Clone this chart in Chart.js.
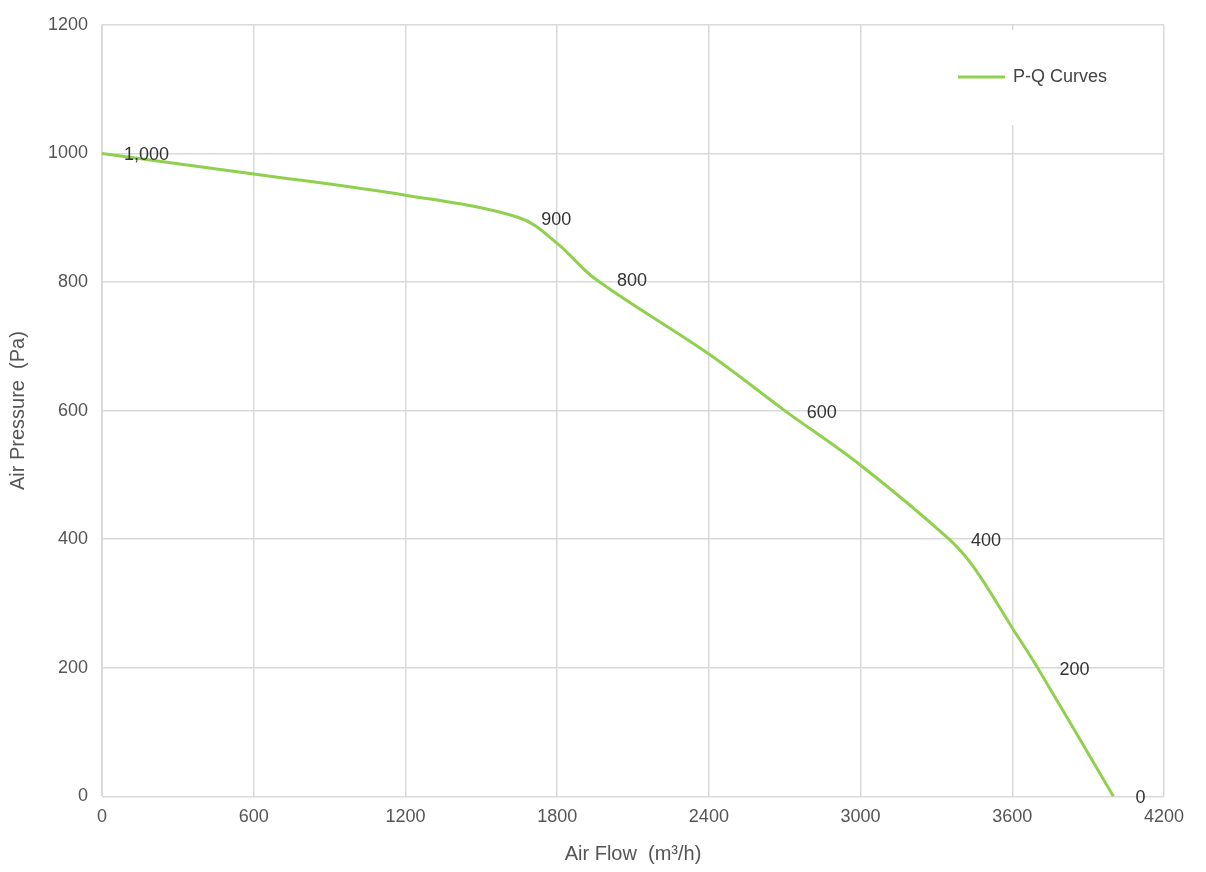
<!DOCTYPE html>
<html><head><meta charset="utf-8">
<script src="https://cdn.jsdelivr.net/npm/chart.js@4"></script>
<style>html,body{margin:0;background:#fff}#w{width:1206px;height:872px}</style>
</head><body><div id="w"><canvas id="c"></canvas></div>
<script>
const airFlow = [0, 600, 1200, 1650, 1800, 1950, 2400, 2700, 3000, 3350, 3450, 3600, 3700, 4000];
const pressure = [1000, 968, 935, 900, 860, 805, 688, 600, 515, 400, 355, 262, 200, 0];
const pointLabels = ["1,000", "", "", "900", "", "800", "", "600", "", "400", "", "", "200", "0"];
const xTicks = [0, 600, 1200, 1800, 2400, 3000, 3600, 4200];
const seriesName = "P-Q Curves";
const F = "'Liberation Sans', Arial, sans-serif";
const labelPlugin = {
  id: 'lbl',
  afterDatasetsDraw(chart) {
    const ctx = chart.ctx, meta = chart.getDatasetMeta(0);
    ctx.save();
    ctx.font = "18px " + F; ctx.fillStyle = "#333"; ctx.textBaseline = "middle"; ctx.textAlign = "left";
    meta.data.forEach((p, i) => { if (pointLabels[i]) ctx.fillText(pointLabels[i], p.x + 22, p.y + 2); });
    const lx = 945, ly = 77;
    ctx.fillStyle = "#fff"; ctx.fillRect(lx, 30, 210, 95);
    ctx.strokeStyle = "#8fd14f"; ctx.lineWidth = 3;
    ctx.beginPath(); ctx.moveTo(lx + 13, ly); ctx.lineTo(lx + 60, ly); ctx.stroke();
    ctx.fillStyle = "#444"; ctx.font = "18px " + F;
    ctx.fillText(seriesName, lx + 68, ly);
    ctx.restore();
  }
};
new Chart(document.getElementById('c'), {
  type: 'line',
  data: { datasets: [{ label: seriesName, data: airFlow.map((x, i) => ({x, y: pressure[i]})),
    borderColor: "#8fd14f", borderWidth: 3, pointRadius: 0, tension: 0.35, fill: false }] },
  options: {
    responsive: true, maintainAspectRatio: false, animation: false,
    layout: { padding: { top: 8, right: 42, left: 2, bottom: 2 } },
    plugins: { legend: { display: false }, tooltip: { enabled: false } },
    scales: {
      x: { type: 'linear', min: 0, max: 4200,
        afterBuildTicks: a => { a.ticks = xTicks.map(v => ({value: v})); },
        grid: { color: "#d9d9d9", lineWidth: 1.5, drawTicks: false },
        border: { color: "#d9d9d9" },
        ticks: { color: "#555", font: { size: 18, family: F }, padding: 10, callback: v => String(v) },
        title: { display: true, text: "Air Flow  (m³/h)", color: "#555", font: { size: 20, family: F } } },
      y: { min: 0, max: 1200,
        grid: { color: "#d9d9d9", lineWidth: 1.5, drawTicks: false },
        border: { color: "#d9d9d9" },
        ticks: { stepSize: 200, color: "#555", font: { size: 18, family: F }, padding: 14, callback: v => String(v) },
        title: { display: true, text: "Air Pressure  (Pa)", color: "#555", font: { size: 20, family: F } } }
    }
  },
  plugins: [labelPlugin]
});
</script></body></html>
